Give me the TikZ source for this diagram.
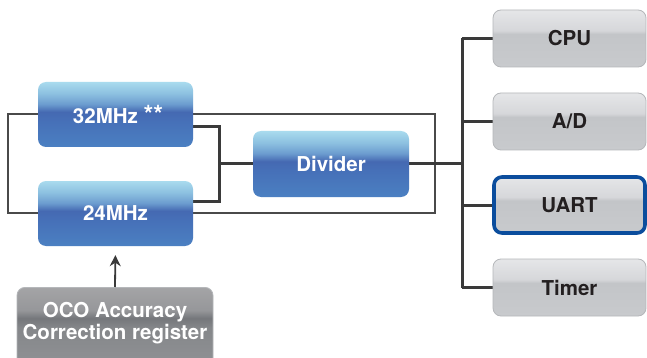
\documentclass[tikz,border=0pt]{standalone}
\usepackage{fontspec}
\setmainfont{TeX Gyre Heros}
\usetikzlibrary{arrows.meta}
\definecolor{lineC}{HTML}{3A3A3A}
\definecolor{thinC}{HTML}{4A4A4A}
\definecolor{uartC}{HTML}{0B4D9D}
\definecolor{grayB}{HTML}{B5B7BA}
\definecolor{txtD}{HTML}{231F20}
\pgfdeclareverticalshading{bluesh}{100bp}{color(0bp)=(rgb,255:red,75;green,128;blue,194); color(25bp)=(rgb,255:red,75;green,128;blue,194); color(45bp)=(rgb,255:red,70;green,112;blue,184); color(52bp)=(rgb,255:red,69;green,105;blue,178); color(58bp)=(rgb,255:red,108;green,156;blue,207); color(66bp)=(rgb,255:red,140;green,192;blue,224); color(75bp)=(rgb,255:red,169;green,219;blue,238); color(100bp)=(rgb,255:red,169;green,219;blue,238)}
\pgfdeclareverticalshading{graysh}{100bp}{color(0bp)=(rgb,255:red,200;green,202;blue,205); color(25bp)=(rgb,255:red,200;green,202;blue,205); color(54bp)=(rgb,255:red,195;green,197;blue,200); color(57bp)=(rgb,255:red,214;green,215;blue,218); color(75bp)=(rgb,255:red,229;green,230;blue,232); color(100bp)=(rgb,255:red,229;green,230;blue,232)}
\pgfdeclareverticalshading{ocosh}{100bp}{color(0bp)=(rgb,255:red,146;green,148;blue,151); color(25bp)=(rgb,255:red,146;green,148;blue,151); color(52bp)=(rgb,255:red,133;green,135;blue,138); color(57.5bp)=(rgb,255:red,117;green,119;blue,123); color(62bp)=(rgb,255:red,150;green,151;blue,154); color(75bp)=(rgb,255:red,164;green,164;blue,166); color(100bp)=(rgb,255:red,164;green,164;blue,166)}
\tikzset{
  lbl/.style={font=\fontsize{20.5}{22}\selectfont\bfseries},
  bluebox/.style={lbl, text=white, shading=bluesh, rounded corners=8pt, minimum width=155pt, minimum height=65pt, inner sep=0pt},
  graybox/.style={lbl, text=txtD, shading=graysh, draw=grayB, line width=0.8pt, rounded corners=8pt, minimum width=153pt, minimum height=57pt, inner sep=0pt},
  thinline/.style={draw=thinC, line width=1.3pt},
  thickline/.style={draw=lineC, line width=3pt},
}
\begin{document}
\begin{tikzpicture}[x=1pt,y=-1pt]
\useasboundingbox (0,0) rectangle (647,358);
\fill[white] (0,0) rectangle (647,358);
% thin loop
\draw[thinline] (8,114) rectangle (435,213);
% coordinates
\coordinate (j1) at (219,164);
\coordinate (j1t) at (219,127);
\coordinate (j1b) at (219,201);
\coordinate (busT) at (462,38.5);
\coordinate (busM) at (462,164);
\coordinate (busB) at (462,287.5);
% thick connectors
\draw[thickline] (115,127) -- (j1t) -- (j1b) -- (115,201);
\draw[thickline] (j1) -- (331,164);
\draw[thickline] (331,164) -- (busM);
\draw[thickline] (busT) -- (busB);
\draw[thickline] (busT) -- (569,38.5);
\draw[thickline] (462,121.5) -- (569,121.5);
\draw[thickline] (462,205) -- (569,205);
\draw[thickline] (busB) -- (569,287.5);
% boxes
\node[bluebox] (f32) at (115.5,114.5) {\hspace{5pt}32MHz {\fontsize{25}{22}\selectfont**}};
\node[bluebox] (f24) at (115.5,213.5) {24MHz};
\node[bluebox, minimum width=156pt, minimum height=66pt] (div) at (331,164) {Divider};
\node[graybox] (cpu) at (569.5,38.5) {CPU};
\node[graybox] (ad) at (569.5,121.5) {A/D};
\node[graybox, draw=uartC, line width=3.6pt, minimum width=151pt, minimum height=56pt] (uart) at (569.5,205) {UART};
\node[graybox] (timer) at (569.5,287.5) {Timer};
\node[shading=ocosh, draw=grayB, line width=0.8pt, rounded corners=8pt, minimum width=196pt, minimum height=88pt, anchor=north] (oco) at (115,287) {};
\node[lbl, text=white, align=center, inner sep=0pt] (ocolbl) at (115,323) {OCO Accuracy\\Correction register};
% arrow
\draw[draw=lineC, line width=1.8pt, -{Stealth[length=11pt,width=11pt]}, shorten >=9pt] (oco.north) -- (f24.south);
\end{tikzpicture}
\end{document}
